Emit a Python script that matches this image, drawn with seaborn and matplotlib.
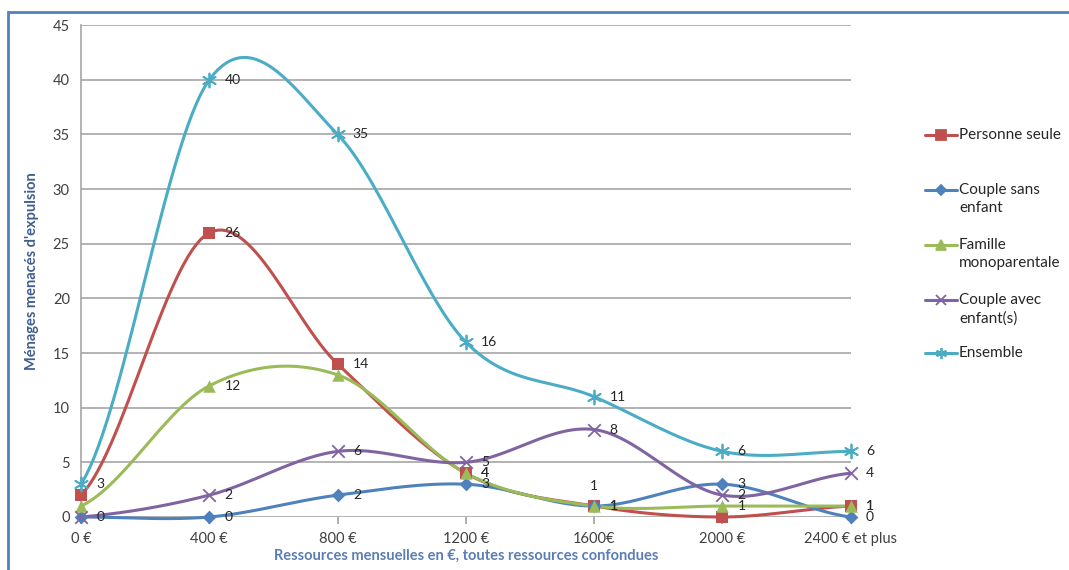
import numpy as np
import pandas as pd
import matplotlib
matplotlib.use('Agg')
import matplotlib.pyplot as plt
from matplotlib.lines import Line2D
from matplotlib.patches import Rectangle
import seaborn as sns

# data
ressources = [0, 400, 800, 1200, 1600, 2000, 2400]
tick_labels = ['0 €', '400 €', '800 €', '1200 €', '1600€', '2000 €', '2400 € et plus']
series_names = ['Personne seule', 'Couple sans\nenfant', 'Famille\nmonoparentale',
                'Couple avec\nenfant(s)', 'Ensemble']
personne_seule = [2, 26, 14, 4, 1, 0, 1]
couple_sans_enfant = [0, 0, 2, 3, 1, 3, 0]
famille_mono = [1, 12, 13, 4, 1, 1, 1]
couple_avec_enfants = [0, 2, 6, 5, 8, 2, 4]
ensemble = [3, 40, 35, 16, 11, 6, 6]
# where each value label sits: 'r' right, 't' above, '' none
label_pos = [
    ['', 'r', 'r', 'r', 't', '', 'r'],
    ['r', 'r', 'r', 'r', 'r', 'r', 'r'],
    ['', 'r', '', 'r', 'r', 'r', 'r'],
    ['', 'r', 'r', 'r', 'r', 'r', 'r'],
    ['r', 'r', 'r', 'r', 'r', 'r', 'r'],
]

colors = ['#C0504D', '#4F81BD', '#9BBB59', '#8064A2', '#4BACC6']
markers = ['s', 'D', '^', 'x', (6, 2, 0)]
msizes = [9, 7, 9, 9, 10]
values = [personne_seule, couple_sans_enfant, famille_mono, couple_avec_enfants, ensemble]


def smooth(xs, ys, n=30):
    # Catmull-Rom curve like Excel's "smoothed line"
    xs = np.asarray(xs, float)
    ys = np.asarray(ys, float)
    px = np.concatenate([[2 * xs[0] - xs[1]], xs, [2 * xs[-1] - xs[-2]]])
    py = np.concatenate([[ys[0]], ys, [ys[-1]]])
    out_x, out_y = [], []
    for i in range(1, len(px) - 2):
        t = np.linspace(0, 1, n, endpoint=False)
        for arr, out in ((px, out_x), (py, out_y)):
            p0, p1, p2, p3 = arr[i - 1], arr[i], arr[i + 1], arr[i + 2]
            out.extend(0.5 * ((2 * p1) + (-p0 + p2) * t
                              + (2 * p0 - 5 * p1 + 4 * p2 - p3) * t ** 2
                              + (-p0 + 3 * p1 - 3 * p2 + p3) * t ** 3))
    out_x.append(xs[-1])
    out_y.append(ys[-1])
    return out_x, out_y


sns.set_theme(style='white')
plt.rcParams['font.family'] = ['Lato', 'DejaVu Sans']

fig = plt.figure(figsize=(10.69, 5.70), dpi=100)
ax = fig.add_axes([0.0758, 0.093, 0.72, 0.863])

for name, vals, c, m, ms in zip(series_names, values, colors, markers, msizes):
    sx, sy = smooth(ressources, vals)
    curve = pd.DataFrame({'x': sx, 'y': sy})
    sns.lineplot(data=curve, x='x', y='y', ax=ax, color=c, linewidth=2.2,
                 sort=False, clip_on=False, zorder=3)
    pts = pd.DataFrame({'x': ressources, 'y': vals})
    sns.scatterplot(data=pts, x='x', y='y', ax=ax, color=c, marker=m, s=ms ** 2,
                    linewidth=1.3 if m in ('x', (6, 2, 0)) else 0, edgecolor=c,
                    clip_on=False, zorder=4)

for vals, where in zip(values, label_pos):
    for x, v, p in zip(ressources, vals, where):
        if p == 'r':
            ax.annotate(str(v), (x, v), xytext=(11, 0), textcoords='offset points',
                        va='center', ha='left', fontsize=10, color='#262626', zorder=5)
        elif p == 't':
            ax.annotate(str(v), (x, v), xytext=(0, 10), textcoords='offset points',
                        va='bottom', ha='center', fontsize=10, color='#262626', zorder=5)

ax.set_xlim(0, 2400)
ax.set_ylim(0, 45)
ax.set_yticks(range(0, 46, 5))
ax.set_xticks(ressources)
ax.set_xticklabels(tick_labels)
ax.yaxis.grid(True, color='#A6A6A6', linewidth=1.2)
ax.xaxis.grid(False)
for side in ['top', 'right', 'bottom']:
    ax.spines[side].set_visible(False)
ax.spines['left'].set_color('#A6A6A6')
ax.spines['left'].set_linewidth(1.2)
ax.tick_params(axis='both', labelsize=10.5, colors='#404040', length=0, pad=8)
ax.tick_params(axis='x', bottom=True, length=5, color='#A6A6A6', pad=6)

ax.set_xlabel('Ressources mensuelles en €, toutes ressources confondues', fontsize=10.5,
              fontweight='bold', color='#5B7DB5', labelpad=2)
ax.set_ylabel("Ménages menacés d'expulsion", fontsize=10.5, fontweight='bold',
              color='#3F5D8F', labelpad=10)

# legend drawn by hand so the key sits on the first text line, as in Excel
legend_y = [135, 190, 245, 300, 353]
for name, c, m, ms, ypix in zip(series_names, colors, markers, msizes, legend_y):
    yf = 1 - ypix / 570
    fig.add_artist(Line2D([925 / 1069, 957 / 1069], [yf, yf], transform=fig.transFigure,
                          color=c, linewidth=2.2))
    fig.add_artist(Line2D([941 / 1069], [yf], transform=fig.transFigure, color=c,
                          marker=m, markersize=ms * 0.8, markeredgewidth=1.3,
                          linestyle='none'))
    fig.text(959 / 1069, yf + 7 / 570, name, ha='left', va='top', fontsize=11,
             color='#262626', linespacing=1.4)

fig.patches.append(Rectangle((8 / 1069, -0.1), 1.2, 1 - 12 / 570 + 0.1,
                             transform=fig.transFigure, fill=False,
                             edgecolor='#4F81BD', linewidth=2, zorder=0))

fig.savefig('out.png', dpi=100)
